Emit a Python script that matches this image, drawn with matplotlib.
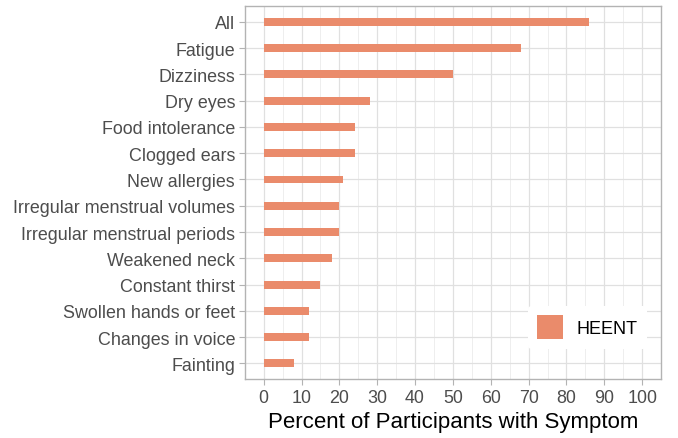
import matplotlib.pyplot as plt
from matplotlib.patches import Patch

symptoms = [
    "All", "Fatigue", "Dizziness", "Dry eyes", "Food intolerance",
    "Clogged ears", "New allergies", "Irregular menstrual volumes",
    "Irregular menstrual periods", "Weakened neck", "Constant thirst",
    "Swollen hands or feet", "Changes in voice", "Fainting",
]
percent = [86, 68, 50, 28, 24, 24, 21, 20, 20, 18, 15, 12, 12, 8]
group = "HEENT"
xticks = list(range(0, 101, 10))

bar_color = "#EA8B6B"

plt.rcParams["font.family"] = ["Liberation Sans", "DejaVu Sans"]

fig = plt.figure(figsize=(6.78, 4.39), dpi=100)
ax = fig.add_axes([0.361, 0.134, 0.614, 0.850])

y = list(range(len(symptoms)))[::-1]
ax.barh(y, percent, height=0.3, left=0, color=bar_color, zorder=3)

ax.set_xlim(-5, 105)
ax.set_ylim(-0.6, len(symptoms) - 0.4)
ax.set_xticks(xticks)
ax.set_xticks(range(5, 101, 10), minor=True)
ax.set_yticks(y)
ax.set_yticklabels(symptoms)

ax.grid(True, which="major", color="#E0E0E0", linewidth=0.9, zorder=0)
ax.grid(True, which="minor", axis="x", color="#EBEBEB", linewidth=0.6, zorder=0)
ax.set_axisbelow(True)

for s in ax.spines.values():
    s.set_color("#B3B3B3")
    s.set_linewidth(1.0)

ax.tick_params(axis="both", which="major", colors="#B3B3B3", length=4,
               labelcolor="#4D4D4D", labelsize=12.9)
ax.tick_params(axis="x", which="minor", length=0)
ax.tick_params(axis="x", pad=3)
ax.tick_params(axis="y", pad=3)

ax.set_xlabel("Percent of Participants with Symptom", fontsize=16,
              color="black", labelpad=4)

handle = Patch(facecolor=bar_color, edgecolor="none", label=group)
leg = ax.legend(handles=[handle], loc="lower right",
                bbox_to_anchor=(0.988, 0.058), frameon=True,
                fontsize=13, handlelength=1.4, handleheight=1.7,
                handletextpad=0.8, borderpad=0.5)
leg.get_frame().set_facecolor("white")
leg.get_frame().set_edgecolor("none")
leg.get_frame().set_alpha(1)
leg.set_zorder(5)

fig.savefig("out.png", dpi=100)
plt.close(fig)
